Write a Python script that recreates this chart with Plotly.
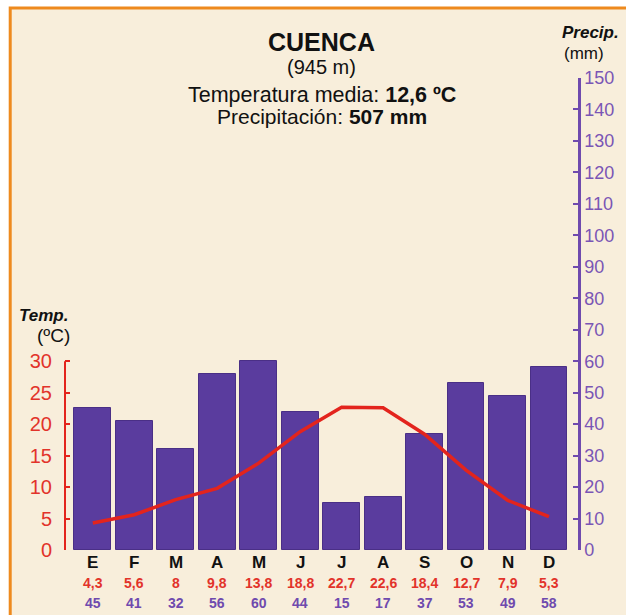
import plotly.graph_objects as go

months = ["E", "F", "M", "A", "M", "J", "J", "A", "S", "O", "N", "D"]
temp = [4.3, 5.6, 8, 9.8, 13.8, 18.8, 22.7, 22.6, 18.4, 12.7, 7.9, 5.3]
precip = [45, 41, 32, 56, 60, 44, 15, 17, 37, 53, 49, 58]
temp_labels = ["4,3", "5,6", "8", "9,8", "13,8", "18,8", "22,7", "22,6", "18,4", "12,7", "7,9", "5,3"]
precip_ticks = list(range(0, 160, 10))
temp_ticks = [0, 5, 10, 15, 20, 25, 30]

PURPLE = "#5a3c9e"
PURPLE_TXT = "#6f4aae"
RED = "#e3241d"
RED_TXT = "#e2332a"
CREAM = "#f8eedb"
FONT = "Liberation Sans"

W, H = 626, 615
L, R, T, B = 65, 46, 78, 65
pw, ph = W - L - R, H - T - B

def px(x):
    return (x - L) / pw

def py(y):
    return (H - B - y) / ph

xs = list(range(len(months)))

fig = go.Figure()
fig.add_trace(go.Bar(
    x=xs, y=precip, width=0.89,
    marker=dict(color=PURPLE, line=dict(color="#4a2f86", width=1)),
    yaxis="y", showlegend=False,
))
fig.add_trace(go.Scatter(
    x=xs, y=temp, mode="lines",
    line=dict(color=RED, width=3.5, shape="linear"),
    yaxis="y2", showlegend=False,
))

def ann(x, y, text, size, color, xref="paper", xanchor="center"):
    return dict(x=x, y=y, xref=xref, yref="paper", text=text, showarrow=False,
                xanchor=xanchor, yanchor="middle",
                font=dict(size=size, color=color, family=FONT))

annotations = []
for i, m in enumerate(months):
    annotations.append(ann(i, py(562), f"<b>{m}</b>", 17, "#111111", xref="x"))
    annotations.append(ann(i, py(583), f"<b>{temp_labels[i]}</b>", 14, RED_TXT, xref="x"))
    annotations.append(ann(i, py(603), f"<b>{precip[i]}</b>", 14, PURPLE_TXT, xref="x"))

annotations += [
    ann(0.5, py(42), "<b>CUENCA</b>", 25, "#111111"),
    ann(0.5, py(67), "(945 m)", 20, "#111111"),
    ann(0.5, py(95), "Temperatura media: <b>12,6 ºC</b>", 21.5, "#111111"),
    ann(0.5, py(116), "Precipitación: <b>507 mm</b>", 21, "#111111"),
    ann(px(562), py(33), "<b><i>Precip.</i></b>", 17, "#111111", xanchor="left"),
    ann(px(564), py(53), "(mm)", 17, "#111111", xanchor="left"),
    ann(px(17), py(315), "<b><i>Temp.</i></b>", 17, "#111111", xanchor="left"),
    ann(px(72), py(335), "(ºC)", 19, "#111111", xanchor="right"),
]

shapes = [
    dict(type="rect", xref="paper", yref="paper", x0=px(10), x1=px(700), y0=py(700), y1=py(8),
         fillcolor=CREAM, line=dict(color="#ee8a1e", width=3), layer="below"),
    dict(type="line", xref="paper", yref="y2", x0=0, x1=0, y0=0, y1=30,
         line=dict(color=RED, width=2)),
]

fig.update_layout(
    width=W, height=H,
    margin=dict(l=L, r=R, t=T, b=B),
    paper_bgcolor="white",
    plot_bgcolor="rgba(0,0,0,0)",
    bargap=0,
    xaxis=dict(range=[-0.67, 11.70], showticklabels=False, showgrid=False, zeroline=False,
               ticks="", showline=False),
    yaxis=dict(range=[0, 150], side="right", tickvals=precip_ticks, showgrid=False, zeroline=False,
               showline=True, linecolor=PURPLE_TXT, linewidth=2.5, ticks="inside", ticklen=5,
               tickwidth=2, tickcolor=PURPLE_TXT,
               tickfont=dict(size=18, color="#7a55b5", family=FONT)),
    yaxis2=dict(range=[0, 75], overlaying="y", side="left", anchor="x", tickvals=temp_ticks,
                showgrid=False, zeroline=False, showline=False, ticks="inside", ticklen=5,
                tickwidth=2, tickcolor=RED, ticklabelstandoff=12,
                tickfont=dict(size=20, color=RED_TXT, family=FONT)),
    annotations=annotations,
    shapes=shapes,
)

fig.write_html(
    "out.html",
    config={"displayModeBar": False},
    post_script="document.body.style.margin='0';document.body.style.padding='0';"
                "document.body.style.overflow='hidden';",
)
